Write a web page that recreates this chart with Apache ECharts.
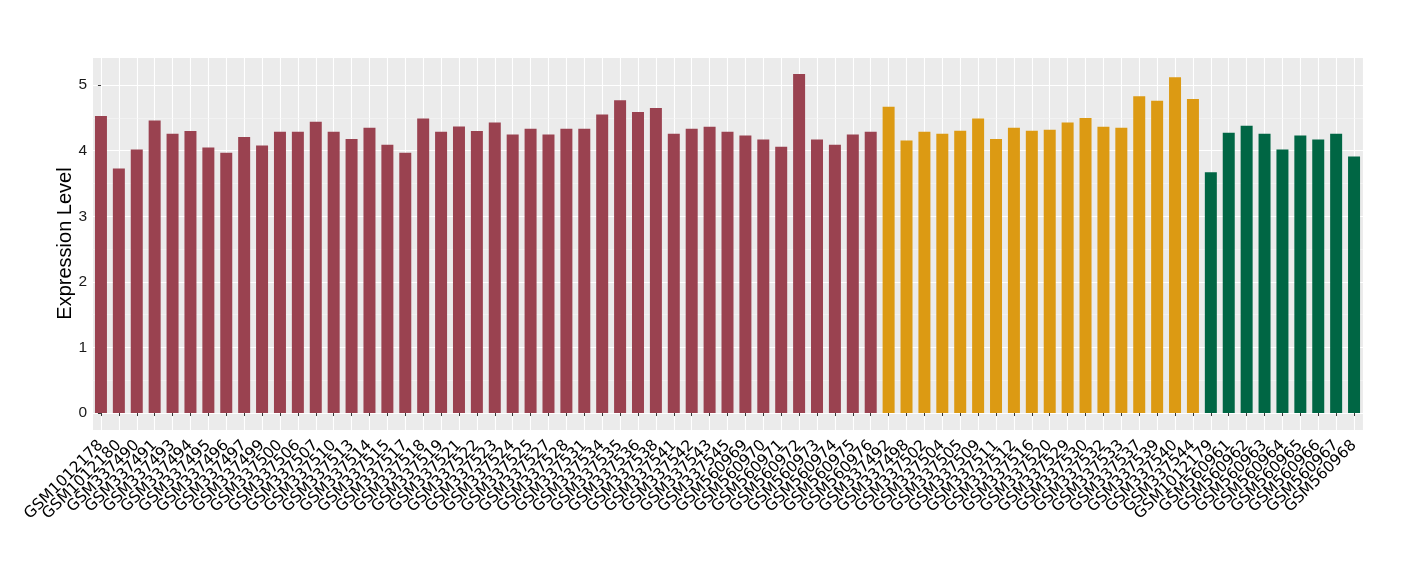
<!DOCTYPE html>
<html><head><meta charset="utf-8">
<script src="https://cdn.jsdelivr.net/npm/echarts@6/dist/echarts.min.js"></script>
<style>html,body{margin:0;padding:0;background:#fff}#c{width:1420px;height:580px}</style>
</head><body><div id="c"></div>
<script>
const groupA = ["GSM1012178","GSM1012180","GSM337490","GSM337491","GSM337493","GSM337494","GSM337495","GSM337496","GSM337497","GSM337499","GSM337500","GSM337506","GSM337507","GSM337510","GSM337513","GSM337514","GSM337515","GSM337517","GSM337518","GSM337519","GSM337521","GSM337522","GSM337523","GSM337524","GSM337525","GSM337527","GSM337528","GSM337531","GSM337534","GSM337535","GSM337536","GSM337538","GSM337541","GSM337542","GSM337543","GSM337545","GSM560969","GSM560970","GSM560971","GSM560972","GSM560973","GSM560974","GSM560975","GSM560976"];
const valuesA = [4.53,3.73,4.02,4.46,4.26,4.30,4.05,3.97,4.21,4.08,4.29,4.29,4.44,4.29,4.18,4.35,4.09,3.97,4.49,4.29,4.37,4.30,4.43,4.245,4.335,4.245,4.335,4.335,4.55,4.77,4.59,4.65,4.26,4.335,4.365,4.29,4.23,4.17,4.06,5.17,4.17,4.09,4.245,4.29];
const groupB = ["GSM337492","GSM337498","GSM337502","GSM337504","GSM337505","GSM337509","GSM337511","GSM337512","GSM337516","GSM337520","GSM337529","GSM337530","GSM337532","GSM337533","GSM337537","GSM337539","GSM337540","GSM337544"];
const valuesB = [4.67,4.155,4.29,4.26,4.305,4.49,4.18,4.35,4.305,4.32,4.43,4.50,4.365,4.35,4.83,4.76,5.12,4.79];
const groupC = ["GSM1012179","GSM560961","GSM560962","GSM560963","GSM560964","GSM560965","GSM560966","GSM560967","GSM560968"];
const valuesC = [3.67,4.275,4.38,4.26,4.02,4.23,4.17,4.26,3.91];
const colors = ["#9a4250","#dc9a13","#006644"];
const yMinorLines = [0.5,1.5,2.5,3.5,4.5];

const categories = groupA.concat(groupB, groupC);
const data = [];
[[valuesA,0],[valuesB,1],[valuesC,2]].forEach(([vals,ci]) => {
  vals.forEach(v => data.push({value: v, itemStyle: {color: colors[ci]}}));
});
const n = categories.length;

const chart = echarts.init(document.getElementById('c'), null, {renderer:'canvas'});
chart.setOption({
  animation: false,
  grid: {left: 92, right: 57, top: 57, bottom: 150, show: true, backgroundColor: '#ebebeb', borderWidth: 0},
  xAxis: [{
    type: 'category', data: categories,
    axisLine: {show: false},
    axisTick: {show: true, alignWithLabel: true, interval: 0, length: 3, lineStyle: {color: '#333', width: 1}},
    axisLabel: {interval: 0, rotate: 45, fontFamily: 'DejaVu Sans', fontSize: 15.5, color: '#000', margin: 13},
    splitLine: {show: false}
  },{
    type: 'value', min: -0.5, max: n - 0.5, splitNumber: n,
    show: true, position: 'bottom',
    axisLine: {show: false}, axisTick: {show: false}, axisLabel: {show: false},
    splitLine: {show: true, lineStyle: {color: '#ffffff', width: 1.1}}
  }],
  yAxis: {
    type: 'value', min: -0.2585, max: 5.4285, splitNumber: 5,
    name: 'Expression Level', nameLocation: 'middle', nameGap: 17, nameMoveOverlap: false,
    nameTextStyle: {fontFamily: 'Liberation Sans', fontSize: 20, color: '#000'},
    axisLine: {show: false},
    axisTick: {show: true, length: 3, lineStyle: {color: '#333'}},
    axisLabel: {showMinLabel: false, showMaxLabel: false, fontFamily: 'Liberation Sans', fontSize: 15.5, color: '#1a1a1a', margin: 5},
    splitLine: {show: true, lineStyle: {color: '#ffffff', width: 1.1}}
  },
  series: [{
    type: 'bar', data: data, barCategoryGap: '33%', xAxisIndex: 0,
    markLine: {
      silent: true, symbol: 'none', label: {show: false}, z: 1,
      lineStyle: {color: '#f6f6f6', width: 0.6, type: 'solid'},
      data: yMinorLines.map(v => ({yAxis: v}))
    }
  }]
});
</script></body></html>
